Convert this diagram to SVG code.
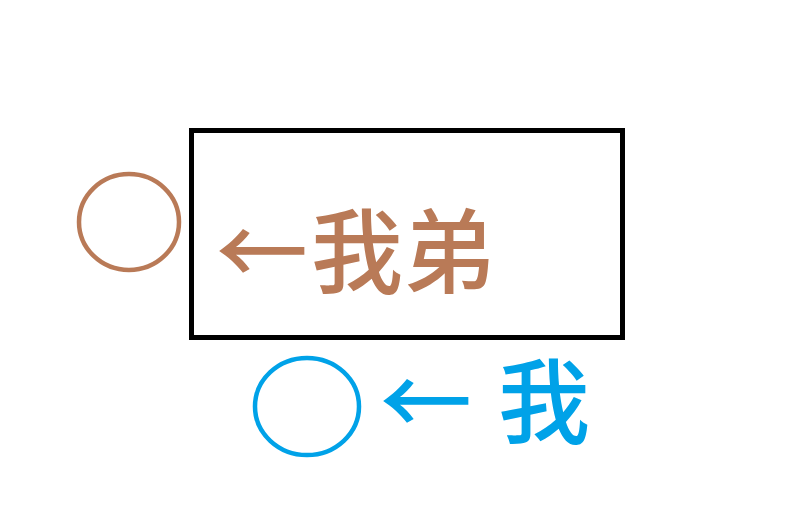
<svg xmlns="http://www.w3.org/2000/svg" width="810" height="511" viewBox="0 0 810 511">
<style>
.t{font-family:"Noto Sans CJK SC","Noto Sans CJK JP",sans-serif;font-weight:500;font-size:92px}
.brown{fill:#B97A57}
.blue{fill:#00A2E8}
</style>
<rect width="810" height="511" fill="#fff"/>
<g id="box">
<rect x="191.5" y="130.5" width="431" height="207" fill="none" stroke="#000" stroke-width="5"/>
</g>
<g id="brown-circle">
<ellipse cx="129" cy="222" rx="50" ry="48" fill="none" stroke="#B97A57" stroke-width="4.5"/>
</g>
<g id="brown-label">
<text class="t brown" x="216" y="286">←<tspan x="311">我弟</tspan></text>
</g>
<g id="blue-circle">
<ellipse cx="307" cy="406.5" rx="52" ry="48.5" fill="none" stroke="#00A2E8" stroke-width="4.5"/>
</g>
<g id="blue-label">
<text class="t blue" x="380" y="436">←<tspan x="498">我</tspan></text>
</g>
<g id="connectors"></g>
</svg>
